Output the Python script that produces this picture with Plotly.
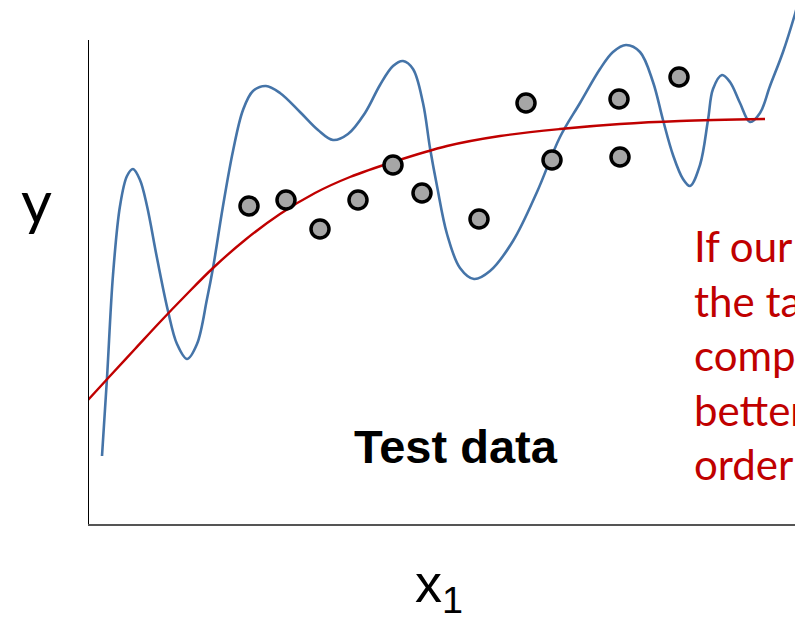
import plotly.graph_objects as go

# Horizontal input x1 and response y, in plot units (origin at the axes corner)
wiggly_x = [14, 19, 25, 32, 39, 45, 52, 59, 69, 80, 89, 99, 109, 119, 125, 135, 145, 155, 165, 178,
            192, 212, 230, 245, 260, 277, 292, 305, 315, 325, 335, 342, 349, 359, 372, 386, 402, 425,
            449, 472, 492, 512, 525, 538, 552, 565, 575, 585, 595, 602, 612, 620, 625, 634, 642, 652,
            662, 672, 682, 695, 707, 712]
wiggly_y = [68, 146, 249, 318, 348, 355, 344, 318, 266, 213, 180, 165, 180, 225, 256, 318, 373, 414, 433, 438,
            431, 412, 394, 384, 390, 411, 439, 458, 463, 455, 421, 376, 338, 290, 256, 245, 253, 283,
            332, 387, 421, 455, 472, 479, 472, 442, 404, 369, 345, 338, 359, 404, 435, 449, 442, 421,
            402, 411, 438, 472, 510, 528]

smooth_x = [0, 22, 47, 72, 97, 125, 157, 192, 227, 262, 305, 359, 412, 472, 532, 592, 677]
smooth_y = [124, 148, 175, 202, 228, 256, 284, 310, 331, 347, 362, 378, 388, 395, 400, 403, 405]

test_x = [161, 198, 232, 270, 305, 334, 391, 438, 464, 531, 532, 591]
test_y = [318, 324, 295, 324, 359, 331, 305, 421, 364, 425, 367, 447]

note_lines = ["If our model", "the target", "compared", "better", "order"]

BLUE = "#4574A8"
RED = "#C00000"

fig = go.Figure()

fig.add_trace(go.Scatter(
    x=wiggly_x, y=wiggly_y, mode="lines",
    line=dict(color=BLUE, width=2.6, shape="spline", smoothing=1.0),
    hoverinfo="skip", showlegend=False,
))
fig.add_trace(go.Scatter(
    x=smooth_x, y=smooth_y, mode="lines",
    line=dict(color=RED, width=2.4, shape="spline", smoothing=1.0),
    hoverinfo="skip", showlegend=False,
))
fig.add_trace(go.Scatter(
    x=test_x, y=test_y, mode="markers",
    marker=dict(size=18, color="#A6A6A6", line=dict(color="black", width=3.5)),
    hoverinfo="skip", showlegend=False,
))

# Vertical axis stops short of the top edge
fig.add_shape(type="line", xref="x", yref="y", x0=0, x1=0, y0=0, y1=484,
              line=dict(color="black", width=2))

fig.update_xaxes(range=[0, 707], showgrid=False, zeroline=False, showticklabels=False,
                 ticks="", showline=True, linecolor="#555555", linewidth=2)
fig.update_yaxes(range=[0, 524], showgrid=False, zeroline=False, showticklabels=False,
                 ticks="", showline=False)

W, H, L, B = 795, 620, 88, 96
PW, PH = W - L, H - B


def px(xp):
    return (xp - L) / PW


def py(yp):
    return (PH - yp) / PH


fig.add_annotation(text="y", xref="paper", yref="paper", x=px(36.5), y=py(201),
                   xanchor="center", yanchor="middle", showarrow=False,
                   font=dict(family="Lato", size=60, color="black"))
fig.add_annotation(text="x<sub>1</sub>", xref="paper", yref="paper", x=px(413), y=py(587),
                   xanchor="left", yanchor="middle", showarrow=False,
                   font=dict(family="Liberation Sans, Arial", size=54, color="black"))
fig.add_annotation(text="<b>Test data</b>", xref="paper", yref="paper", x=px(456), y=py(446),
                   xanchor="center", yanchor="middle", showarrow=False,
                   font=dict(family="Liberation Sans, Arial", size=47, color="black"))
fig.add_annotation(text="<br>".join(note_lines), xref="paper", yref="paper", x=px(692), y=py(219),
                   xanchor="left", yanchor="top", align="left", showarrow=False,
                   font=dict(family="Lato", size=42, color=RED))

fig.update_layout(
    width=W, height=H,
    margin=dict(l=L, r=0, t=0, b=B),
    paper_bgcolor="white", plot_bgcolor="white",
)

fig.write_html("out.html")
